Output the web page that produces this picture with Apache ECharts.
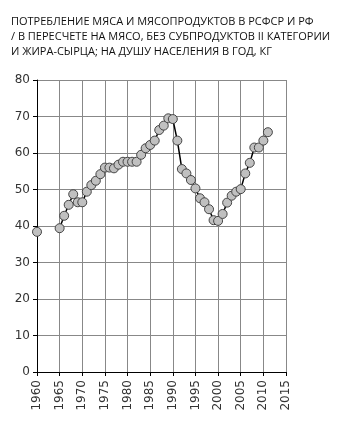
<!DOCTYPE html>
<html><head><meta charset="utf-8">
<script src="https://cdn.jsdelivr.net/npm/echarts@6/dist/echarts.min.js"></script>
<style>html,body{margin:0;padding:0;background:#fff}#c{width:348px;height:428px}</style>
</head><body><div id="c"></div>
<script>
const titleLines = [
  "ПОТРЕБЛЕНИЕ МЯСА И МЯСОПРОДУКТОВ В РСФСР И РФ",
  "/ В ПЕРЕСЧЕТЕ НА МЯСО, БЕЗ СУБПРОДУКТОВ II КАТЕГОРИИ",
  "И ЖИРА-СЫРЦА; НА ДУШУ НАСЕЛЕНИЯ В ГОД, КГ"
];
const years = [1960,1961,1962,1963,1964,1965,1966,1967,1968,1969,1970,1971,1972,1973,1974,1975,1976,1977,1978,1979,1980,1981,1982,1983,1984,1985,1986,1987,1988,1989,1990,1991,1992,1993,1994,1995,1996,1997,1998,1999,2000,2001,2002,2003,2004,2005,2006,2007,2008,2009,2010,2011];
const values = [38.4,null,null,null,null,39.4,42.8,45.8,48.7,46.5,46.5,49.4,51.2,52.4,54.2,56.0,56.0,55.8,56.8,57.6,57.6,57.6,57.6,59.5,61.3,62.2,63.4,66.3,67.5,69.5,69.3,63.4,55.6,54.4,52.6,50.3,47.6,46.5,44.6,41.6,41.4,43.3,46.4,48.3,49.4,50.1,54.4,57.3,61.5,61.5,63.4,65.7];

const chart = echarts.init(document.getElementById('c'));
chart.setOption({
  animation:false,
  title:{
    text:titleLines.join("\n"),
    left:6, top:9,
    textStyle:{fontFamily:"Open Sans",fontSize:11,fontWeight:'normal',color:'#111',lineHeight:15}
  },
  grid:{left:37,right:62,top:80,bottom:56,containLabel:false},
  xAxis:{
    type:'value',min:1960,max:2015,interval:5,
    axisLine:{show:true,onZero:false,lineStyle:{color:'#000',width:1}},
    axisTick:{show:true,length:4,lineStyle:{color:'#000'}},
    axisLabel:{rotate:90,fontFamily:"DejaVu Sans",fontSize:12,color:'#333',margin:8,formatter:v=>String(v)},
    splitLine:{show:true,lineStyle:{color:'#888',width:1}}
  },
  yAxis:{
    type:'value',min:0,max:80,interval:10,
    axisLine:{show:true,lineStyle:{color:'#000',width:1}},
    axisTick:{show:true,length:4,lineStyle:{color:'#000'}},
    axisLabel:{fontFamily:"DejaVu Sans",fontSize:12,color:'#333',margin:7},
    splitLine:{show:true,lineStyle:{color:'#888',width:1}}
  },
  series:[{
    type:'line',
    data:years.map((y,i)=>[y,values[i]]),
    connectNulls:false,
    symbol:'circle',symbolSize:9,
    lineStyle:{color:'#000',width:1.5},
    itemStyle:{color:'#c0c0c0',borderColor:'#444',borderWidth:1}
  }]
});
</script></body></html>
